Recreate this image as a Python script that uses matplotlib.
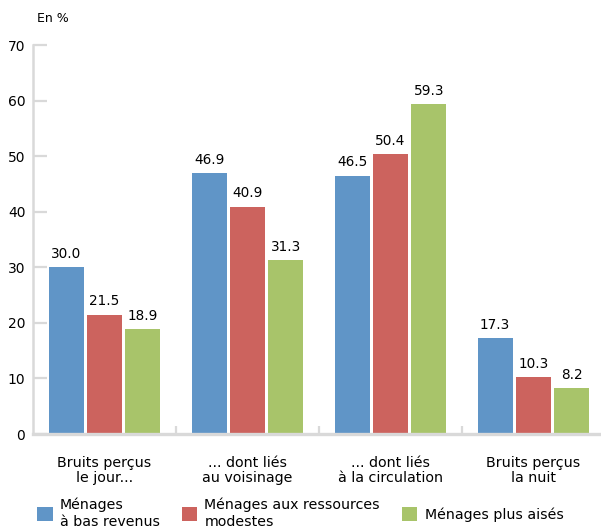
import matplotlib
matplotlib.use("Agg")
import matplotlib.pyplot as plt
import numpy as np

plt.rcParams['font.family'] = ['DejaVu Sans']

categories = ["Bruits perçus\nle jour...", "... dont liés\nau voisinage",
              "... dont liés\nà la circulation", "Bruits perçus\nla nuit"]
series_names = ["Ménages\nà bas revenus", "Ménages aux ressources\nmodestes",
                "Ménages plus aisés"]
bas_revenus = [30.0, 46.9, 46.5, 17.3]
modestes = [21.5, 40.9, 50.4, 10.3]
aises = [18.9, 31.3, 59.3, 8.2]
yticks = [0, 10, 20, 30, 40, 50, 60, 70]

colors = ["#6095C7", "#CC635E", "#A8C46A"]
axis_gray = "#D9D9D9"
ink = "#000000"

W, H = 601, 530
fig = plt.figure(figsize=(W / 100, H / 100), dpi=100)
ax = fig.add_axes([33 / W, (H - 434) / H, (W - 33) / W, (434 - 45) / H])

x = np.arange(len(categories))
width = 0.245
offset = 0.268
series = [bas_revenus, modestes, aises]
bars = []
for i, (vals, col) in enumerate(zip(series, colors)):
    b = ax.bar(x + (i - 1) * offset, vals, width, color=col, label=series_names[i])
    bars.append(b)
    for rect, v in zip(b, vals):
        ax.annotate(f"{v:.1f}", (rect.get_x() + rect.get_width() / 2, v),
                    xytext=(0, 4.5), textcoords="offset points",
                    ha="center", va="bottom", fontsize=9.8, color=ink)

ax.set_ylim(0, 70)
ax.set_xlim(-0.5, -0.5 + (W - 33) / 143)
ax.set_yticks(yticks)
ax.tick_params(axis="y", direction="in", length=10, width=1.6, color=axis_gray,
               labelsize=10, pad=5.5, labelcolor=ink)

# category separators on the baseline
ax.set_xticks(x[:-1] + 0.5)
ax.set_xticklabels([])
ax.tick_params(axis="x", direction="in", length=6, width=1.6, color=axis_gray)
for xi, lab in zip(x, categories):
    ax.annotate(lab, (xi, 0), xytext=(0, -15.5), textcoords="offset points",
                ha="center", va="top", fontsize=10.3, color=ink,
                linespacing=1.12, annotation_clip=False)

for s in ["top", "right"]:
    ax.spines[s].set_visible(False)
ax.spines["left"].set_color(axis_gray)
ax.spines["left"].set_linewidth(1.8)
ax.spines["bottom"].set_color(axis_gray)
ax.spines["bottom"].set_linewidth(2.4)

fig.text(37 / W, 1 - 18 / H, "En %", fontsize=9, va="center", ha="left",
         color=ink)

fig.legend(handles=bars, labels=series_names, loc="upper left",
           bbox_to_anchor=(37 / W, 1 - 498 / H), ncol=3, frameon=False,
           fontsize=10.2, handlelength=1.1, handleheight=1.1, handletextpad=0.5,
           columnspacing=1.55, borderpad=0, borderaxespad=0, labelspacing=0)

fig.savefig("out.png", dpi=100)
